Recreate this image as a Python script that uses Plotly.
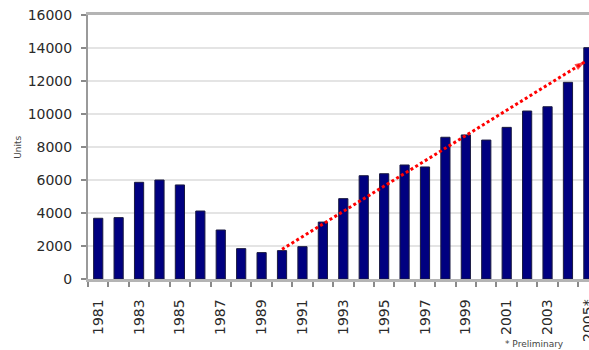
import plotly.graph_objects as go

# Annual units, 1981-2005 (2005 preliminary)
years = list(range(1981, 2006))
units = [3680, 3720, 5860, 6000, 5700, 4120, 2970, 1840, 1600, 1720,
         1960, 3450, 4870, 6260, 6380, 6910, 6790, 8590, 8730, 8420,
         9190, 10180, 10440, 11920, 14020]

# Labelled ticks every other year; the last year is marked preliminary
tick_years = list(range(1981, 2006, 2))
tick_labels = [str(y) for y in tick_years[:-1]] + ["2005*"]

# Value axis ticks
y_ticks = list(range(0, 16001, 2000))
y_labels = [str(v) for v in y_ticks]

# Category boundaries carry the small tick marks
boundary_ticks = [y - 0.5 for y in years] + [2005.5]

# Trend arrow from 1990 up to the latest year
trend_years = [1990, 2004.84]
trend_values = [1800, 13170]

font_family = "DejaVu Sans"
text_color = "#2a2a2a"

fig = go.Figure()

fig.add_trace(go.Bar(
    x=years,
    y=units,
    width=0.45,
    marker=dict(color="#000080", line=dict(color="#1a1a40", width=1)),
    hoverinfo="x+y",
))

fig.add_trace(go.Scatter(
    x=trend_years,
    y=trend_values,
    mode="lines",
    line=dict(color="#ff0000", width=3, dash="3px,2.6px"),
    hoverinfo="skip",
))

fig.add_trace(go.Scatter(
    x=trend_years,
    y=trend_values,
    mode="markers",
    marker=dict(symbol="arrow", angleref="previous", size=[0, 11],
                color="#ff0000", line=dict(width=0)),
    hoverinfo="skip",
))

fig.update_layout(
    width=589,
    height=350,
    margin=dict(l=88, r=0, t=15, b=71, autoexpand=False),
    paper_bgcolor="white",
    plot_bgcolor="white",
    showlegend=False,
    font=dict(family=font_family, color=text_color, size=14),
)

fig.update_xaxes(
    automargin=False,
    range=[1980.5, 2005.03],
    tickmode="array",
    tickvals=tick_years,
    ticktext=tick_labels,
    tickangle=-90,
    ticks="",
    ticklabelstandoff=12,
    ticklabeloverflow="allow",
    tickfont=dict(size=14, family=font_family, color=text_color),
    showgrid=False,
    zeroline=False,
    showline=True,
    linecolor="#b4b4b4",
    linewidth=2.5,
    mirror=True,
    minor=dict(tickmode="array", tickvals=boundary_ticks, ticks="outside",
               ticklen=5, tickcolor="#8a8a8a", tickwidth=1.5, showgrid=False),
)

fig.update_yaxes(
    automargin=False,
    range=[0, 16000],
    tickmode="array",
    tickvals=y_ticks,
    ticktext=y_labels,
    ticks="outside",
    ticklen=5,
    tickcolor="#8a8a8a",
    tickwidth=1.5,
    ticklabelstandoff=6,
    tickfont=dict(size=14, family=font_family, color=text_color),
    showgrid=True,
    gridcolor="#e4e4e4",
    gridwidth=2,
    zeroline=False,
    showline=True,
    linecolor="#9a9a9a",
    linewidth=2,
)

fig.add_annotation(
    text="Units", xref="paper", yref="paper", x=-0.14, y=0.5,
    xanchor="center", yanchor="middle",
    textangle=-90, showarrow=False,
    font=dict(size=9, family=font_family, color="#444444"),
)

fig.add_annotation(
    text="* Preliminary", xref="paper", yref="paper", x=0.892, y=-0.245,
    showarrow=False, xanchor="center", yanchor="middle",
    font=dict(size=9, family=font_family, color="#444444"),
)

fig.write_html("out.html")
